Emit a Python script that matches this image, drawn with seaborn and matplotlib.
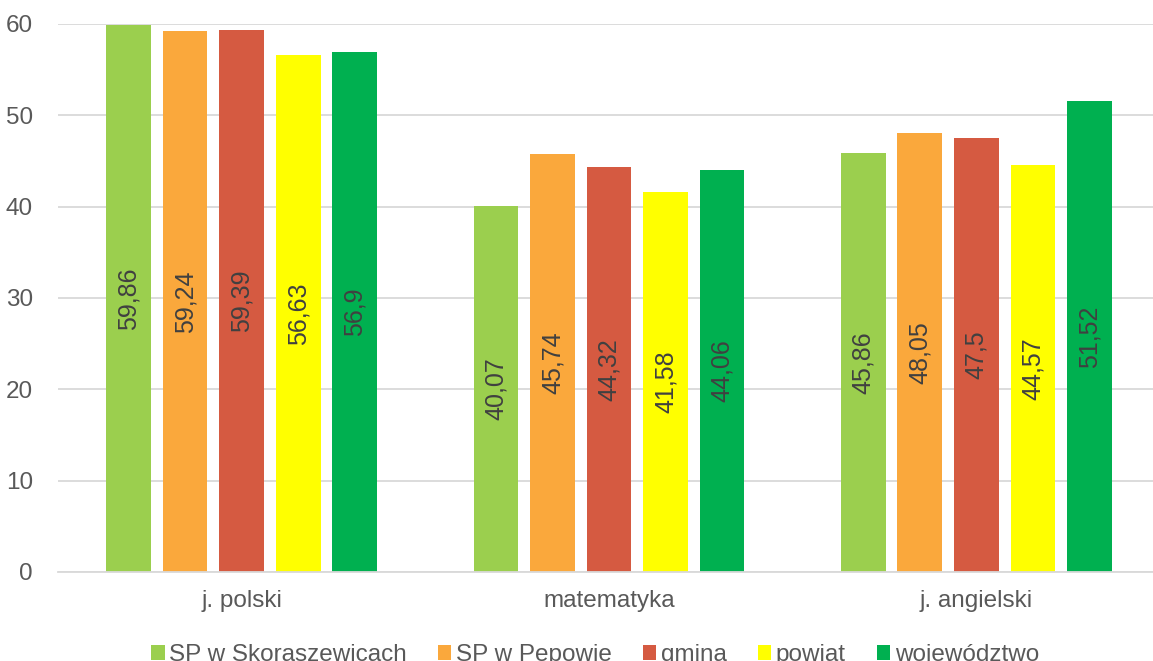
import pandas as pd
import seaborn as sns
import matplotlib.pyplot as plt

subjects = ["j. polski", "matematyka", "j. angielski"]
schools = ["SP w Skoraszewicach", "SP w Pepowie", "gmina", "powiat", "województwo"]
skoraszewice = [59.86, 40.07, 45.86]
pepowo = [59.24, 45.74, 48.05]
gmina = [59.39, 44.32, 47.5]
powiat = [56.63, 41.58, 44.57]
wojewodztwo = [56.9, 44.06, 51.52]

colors = ["#9BCF4E", "#FAA83C", "#D55A41", "#FFFF00", "#00B050"]

series = [skoraszewice, pepowo, gmina, powiat, wojewodztwo]
rows = []
for school, vals in zip(schools, series):
    for subj, v in zip(subjects, vals):
        rows.append({"przedmiot": subj, "szkoła": school, "wynik": v})
df = pd.DataFrame(rows)

sns.set_style("white")
plt.rcParams["font.family"] = ["Liberation Sans", "DejaVu Sans"]

fig = plt.figure(figsize=(11.53, 6.61), dpi=100)
ax = fig.add_axes([58 / 1153, 89 / 661, 1102 / 1153, 548 / 661])

sns.barplot(data=df, x="przedmiot", y="wynik", hue="szkoła",
            order=subjects, hue_order=schools, palette=colors, saturation=1,
            width=0.77, gap=0.21, linewidth=0, ax=ax, legend=True)

for cont, vals in zip(ax.containers, series):
    ax.bar_label(cont, labels=[str(v).replace(".", ",") for v in vals],
                 label_type="center", rotation=90, fontsize=18, color="#404040")

ax.set_ylim(0, 60)
ax.set_xlim(-0.5, 2.5)
ax.set_yticks(range(0, 61, 10))
ax.yaxis.grid(True, color="#D9D9D9", linewidth=1.3)
ax.set_axisbelow(True)
for s in ["top", "right", "left"]:
    ax.spines[s].set_visible(False)
ax.spines["bottom"].set_color("#D9D9D9")
ax.spines["bottom"].set_linewidth(1.3)
ax.tick_params(axis="both", length=0, labelsize=17.5, labelcolor="#595959")
ax.tick_params(axis="y", pad=18)
ax.tick_params(axis="x", pad=13)
ax.set_xlabel("")
ax.set_ylabel("")

handles, labels = ax.get_legend_handles_labels()
ax.legend(handles, labels, loc="center", bbox_to_anchor=(595 / 1153, 6 / 661),
          bbox_transform=fig.transFigure, ncol=5, frameon=False,
          fontsize=17.5, labelcolor="#595959", handlelength=0.55, handleheight=0.55,
          handletextpad=0.17, columnspacing=1.3, borderpad=0)

fig.savefig("out.png", dpi=100)
